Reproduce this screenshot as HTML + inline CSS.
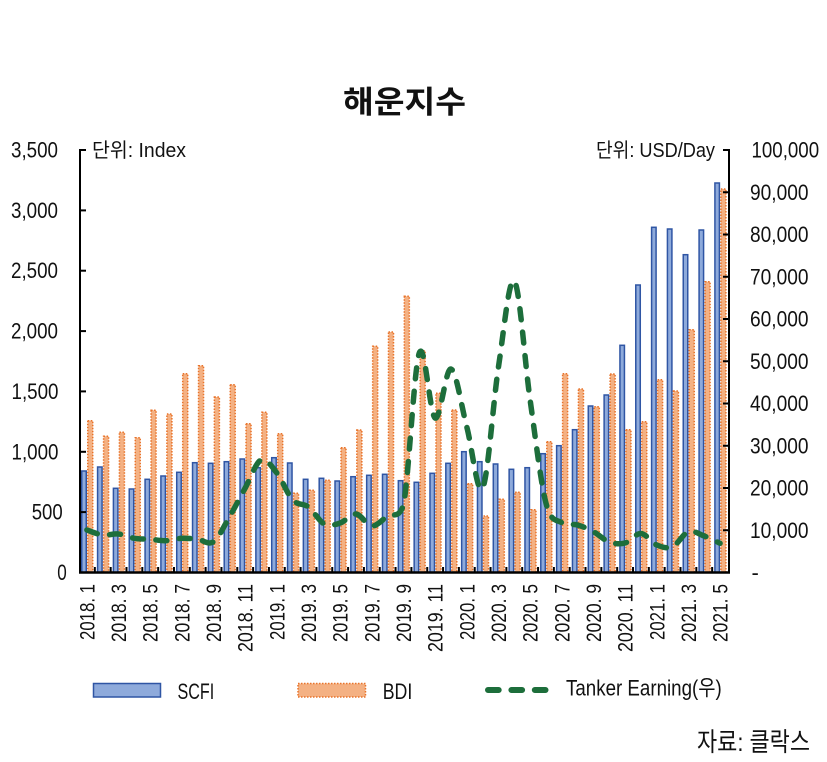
<!DOCTYPE html>
<html><head><meta charset="utf-8"><style>
html,body{margin:0;padding:0;background:#fff;}
svg{display:block;}
text{font-family:"Liberation Sans","Noto Sans CJK KR",sans-serif;fill:#111;}
.s{fill:#8eaadb;stroke:#2f55a4;stroke-width:1.5;}
.b{fill:#f4b183;stroke:#e8732a;stroke-width:1.5;stroke-dasharray:1.5 1.5;}
.ax{stroke:#000;stroke-width:2;fill:none;}
.yl{font-size:22px;text-anchor:end;}
.yr{font-size:22px;}
.xl{font-size:21px;text-anchor:end;}
</style></head><body>
<svg width="827" height="762" viewBox="0 0 827 762" xmlns="http://www.w3.org/2000/svg">
<rect width="827" height="762" fill="#fff"/>
<text x="404.5" y="113" font-size="31" font-weight="700" text-anchor="middle" textLength="123" lengthAdjust="spacingAndGlyphs">해운지수</text>

<!-- bars -->
<g transform="translate(79,0)"><rect class="s" x="2.75" y="471" width="4.5" height="101.5"/><rect class="b" x="8.75" y="420.7" width="5" height="151.8"/></g>
<g transform="translate(94.83,0)"><rect class="s" x="2.75" y="467" width="4.5" height="105.5"/><rect class="b" x="8.75" y="436.3" width="5" height="136.2"/></g>
<g transform="translate(110.66,0)"><rect class="s" x="2.75" y="488.3" width="4.5" height="84.2"/><rect class="b" x="8.75" y="432.3" width="5" height="140.2"/></g>
<g transform="translate(126.49,0)"><rect class="s" x="2.75" y="489" width="4.5" height="83.5"/><rect class="b" x="8.75" y="437.7" width="5" height="134.8"/></g>
<g transform="translate(142.32,0)"><rect class="s" x="2.75" y="479.3" width="4.5" height="93.2"/><rect class="b" x="8.75" y="410.3" width="5" height="162.2"/></g>
<g transform="translate(158.15,0)"><rect class="s" x="2.75" y="476" width="4.5" height="96.5"/><rect class="b" x="8.75" y="414" width="5" height="158.5"/></g>
<g transform="translate(173.97,0)"><rect class="s" x="2.75" y="472.3" width="4.5" height="100.2"/><rect class="b" x="8.75" y="373.7" width="5" height="198.8"/></g>
<g transform="translate(189.8,0)"><rect class="s" x="2.75" y="462.7" width="4.5" height="109.8"/><rect class="b" x="8.75" y="365.7" width="5" height="206.8"/></g>
<g transform="translate(205.63,0)"><rect class="s" x="2.75" y="463.3" width="4.5" height="109.2"/><rect class="b" x="8.75" y="397" width="5" height="175.5"/></g>
<g transform="translate(221.46,0)"><rect class="s" x="2.75" y="461.7" width="4.5" height="110.8"/><rect class="b" x="8.75" y="384.7" width="5" height="187.8"/></g>
<g transform="translate(237.29,0)"><rect class="s" x="2.75" y="459" width="4.5" height="113.5"/><rect class="b" x="8.75" y="423.7" width="5" height="148.8"/></g>
<g transform="translate(253.12,0)"><rect class="s" x="2.75" y="467.7" width="4.5" height="104.8"/><rect class="b" x="8.75" y="412.3" width="5" height="160.2"/></g>
<g transform="translate(268.95,0)"><rect class="s" x="2.75" y="457.7" width="4.5" height="114.8"/><rect class="b" x="8.75" y="433.7" width="5" height="138.8"/></g>
<g transform="translate(284.78,0)"><rect class="s" x="2.75" y="463" width="4.5" height="109.5"/><rect class="b" x="8.75" y="493.3" width="5" height="79.2"/></g>
<g transform="translate(300.61,0)"><rect class="s" x="2.75" y="479.3" width="4.5" height="93.2"/><rect class="b" x="8.75" y="490.3" width="5" height="82.2"/></g>
<g transform="translate(316.44,0)"><rect class="s" x="2.75" y="478.3" width="4.5" height="94.2"/><rect class="b" x="8.75" y="480.3" width="5" height="92.2"/></g>
<g transform="translate(332.26,0)"><rect class="s" x="2.75" y="481" width="4.5" height="91.5"/><rect class="b" x="8.75" y="447.7" width="5" height="124.8"/></g>
<g transform="translate(348.09,0)"><rect class="s" x="2.75" y="476.7" width="4.5" height="95.8"/><rect class="b" x="8.75" y="430" width="5" height="142.5"/></g>
<g transform="translate(363.92,0)"><rect class="s" x="2.75" y="475.3" width="4.5" height="97.2"/><rect class="b" x="8.75" y="346.3" width="5" height="226.2"/></g>
<g transform="translate(379.75,0)"><rect class="s" x="2.75" y="474.3" width="4.5" height="98.2"/><rect class="b" x="8.75" y="332" width="5" height="240.5"/></g>
<g transform="translate(395.58,0)"><rect class="s" x="2.75" y="480.7" width="4.5" height="91.8"/><rect class="b" x="8.75" y="296.3" width="5" height="276.2"/></g>
<g transform="translate(411.41,0)"><rect class="s" x="2.75" y="482.3" width="4.5" height="90.2"/><rect class="b" x="8.75" y="350.7" width="5" height="221.8"/></g>
<g transform="translate(427.24,0)"><rect class="s" x="2.75" y="473.3" width="4.5" height="99.2"/><rect class="b" x="8.75" y="393.3" width="5" height="179.2"/></g>
<g transform="translate(443.07,0)"><rect class="s" x="2.75" y="463.3" width="4.5" height="109.2"/><rect class="b" x="8.75" y="410" width="5" height="162.5"/></g>
<g transform="translate(458.9,0)"><rect class="s" x="2.75" y="451.7" width="4.5" height="120.8"/><rect class="b" x="8.75" y="483.7" width="5" height="88.8"/></g>
<g transform="translate(474.73,0)"><rect class="s" x="2.75" y="461.7" width="4.5" height="110.8"/><rect class="b" x="8.75" y="516" width="5" height="56.5"/></g>
<g transform="translate(490.55,0)"><rect class="s" x="2.75" y="464" width="4.5" height="108.5"/><rect class="b" x="8.75" y="499.3" width="5" height="73.2"/></g>
<g transform="translate(506.38,0)"><rect class="s" x="2.75" y="469.3" width="4.5" height="103.2"/><rect class="b" x="8.75" y="492.3" width="5" height="80.2"/></g>
<g transform="translate(522.21,0)"><rect class="s" x="2.75" y="467.7" width="4.5" height="104.8"/><rect class="b" x="8.75" y="509.7" width="5" height="62.8"/></g>
<g transform="translate(538.04,0)"><rect class="s" x="2.75" y="453.7" width="4.5" height="118.8"/><rect class="b" x="8.75" y="441.7" width="5" height="130.8"/></g>
<g transform="translate(553.87,0)"><rect class="s" x="2.75" y="445.7" width="4.5" height="126.8"/><rect class="b" x="8.75" y="373.7" width="5" height="198.8"/></g>
<g transform="translate(569.7,0)"><rect class="s" x="2.75" y="429.7" width="4.5" height="142.8"/><rect class="b" x="8.75" y="389" width="5" height="183.5"/></g>
<g transform="translate(585.53,0)"><rect class="s" x="2.75" y="406" width="4.5" height="166.5"/><rect class="b" x="8.75" y="406.7" width="5" height="165.8"/></g>
<g transform="translate(601.36,0)"><rect class="s" x="2.75" y="395" width="4.5" height="177.5"/><rect class="b" x="8.75" y="374" width="5" height="198.5"/></g>
<g transform="translate(617.19,0)"><rect class="s" x="2.75" y="345.3" width="4.5" height="227.2"/><rect class="b" x="8.75" y="429.7" width="5" height="142.8"/></g>
<g transform="translate(633.02,0)"><rect class="s" x="2.75" y="285" width="4.5" height="287.5"/><rect class="b" x="8.75" y="421.7" width="5" height="150.8"/></g>
<g transform="translate(648.84,0)"><rect class="s" x="2.75" y="227.3" width="4.5" height="345.2"/><rect class="b" x="8.75" y="379.7" width="5" height="192.8"/></g>
<g transform="translate(664.67,0)"><rect class="s" x="2.75" y="229" width="4.5" height="343.5"/><rect class="b" x="8.75" y="391" width="5" height="181.5"/></g>
<g transform="translate(680.5,0)"><rect class="s" x="2.75" y="254.7" width="4.5" height="317.8"/><rect class="b" x="8.75" y="329.7" width="5" height="242.8"/></g>
<g transform="translate(696.33,0)"><rect class="s" x="2.75" y="230" width="4.5" height="342.5"/><rect class="b" x="8.75" y="281.7" width="5" height="290.8"/></g>
<g transform="translate(712.16,0)"><rect class="s" x="2.75" y="183" width="4.5" height="389.5"/><rect class="b" x="8.75" y="189" width="5" height="383.5"/></g>

<!-- tanker line -->
<path d="M86.91 530 C89.55 530.83 97.46 534.33 102.74 535 C108.02 535.67 113.29 533.45 118.57 534 C123.85 534.55 129.12 537.42 134.4 538.3 C139.68 539.18 144.95 538.9 150.23 539.3 C155.51 539.7 160.78 540.87 166.06 540.7 C171.34 540.53 176.6 538.53 181.88 538.3 C187.16 538.07 192.43 538.73 197.71 539.3 C202.99 539.87 208.26 545.42 213.54 541.7 C218.82 537.98 224.09 525.95 229.37 517 C234.65 508.05 239.92 497.5 245.2 488 C250.48 478.5 255.75 462.5 261.03 460 C266.31 457.5 271.58 466.33 276.86 473 C282.14 479.67 287.41 494.33 292.69 500 C297.97 505.67 303.24 503 308.52 507 C313.8 511 319.07 521.33 324.35 524 C329.63 526.67 334.89 524.67 340.17 523 C345.45 521.33 350.72 513.5 356 514 C361.28 514.5 366.55 525.67 371.83 526 C377.11 526.33 382.38 519.5 387.66 516 C392.94 512.5 398.21 520 403.49 505 C408.77 477.83 414.04 367.5 419.32 353 C424.6 338.5 429.87 415.33 435.15 418 C440.43 420.67 445.7 367.5 450.98 369 C456.26 370.5 461.53 407.17 466.81 427 C472.09 446.83 477.36 498 482.64 488 C487.92 478 493.18 401.5 498.46 367 C503.74 332.5 509.01 275.5 514.29 281 C519.57 286.5 524.84 363 530.12 400 C535.4 437 540.67 482.55 545.95 503 C551.23 523.45 556.5 519.03 561.78 522.7 C567.06 526.37 572.33 523.5 577.61 525 C582.89 526.5 588.16 528.87 593.44 531.7 C598.72 534.53 603.99 540.12 609.27 542 C614.55 543.88 619.82 544.42 625.1 543 C630.38 541.58 635.65 533.17 640.93 533.5 C646.21 533.83 651.47 542.8 656.75 545 C662.03 547.2 667.3 548.92 672.58 546.7 C677.86 544.48 683.13 533.48 688.41 531.7 C693.69 529.92 698.96 534.07 704.24 536 C709.52 537.93 717.43 542.08 720.07 543.3" fill="none" stroke="#1d6e3b" stroke-width="5.5" stroke-linecap="round" stroke-dasharray="11 12.5"/>

<!-- axes -->
<line class="ax" x1="80" y1="149" x2="80" y2="573"/>
<line class="ax" x1="729" y1="149" x2="729" y2="573"/>
<line x1="79" y1="572.5" x2="730" y2="572.5" stroke="#000" stroke-width="2.5"/>
<g stroke="#000" stroke-width="2">
<line x1="80" y1="150" x2="86" y2="150"/><line x1="80" y1="210.4" x2="86" y2="210.4"/><line x1="80" y1="270.7" x2="86" y2="270.7"/><line x1="80" y1="331.1" x2="86" y2="331.1"/><line x1="80" y1="391.4" x2="86" y2="391.4"/><line x1="80" y1="451.8" x2="86" y2="451.8"/><line x1="80" y1="512.1" x2="86" y2="512.1"/>
<line x1="723" y1="150" x2="729" y2="150"/><line x1="723" y1="192.25" x2="729" y2="192.25"/><line x1="723" y1="234.5" x2="729" y2="234.5"/><line x1="723" y1="276.75" x2="729" y2="276.75"/><line x1="723" y1="319" x2="729" y2="319"/><line x1="723" y1="361.25" x2="729" y2="361.25"/><line x1="723" y1="403.5" x2="729" y2="403.5"/><line x1="723" y1="445.75" x2="729" y2="445.75"/><line x1="723" y1="488" x2="729" y2="488"/><line x1="723" y1="530.25" x2="729" y2="530.25"/>
<line x1="94.83" y1="567" x2="94.83" y2="572"/><line x1="110.66" y1="567" x2="110.66" y2="572"/><line x1="126.49" y1="567" x2="126.49" y2="572"/><line x1="142.32" y1="567" x2="142.32" y2="572"/><line x1="158.15" y1="567" x2="158.15" y2="572"/><line x1="173.97" y1="567" x2="173.97" y2="572"/><line x1="189.8" y1="567" x2="189.8" y2="572"/><line x1="205.63" y1="567" x2="205.63" y2="572"/><line x1="221.46" y1="567" x2="221.46" y2="572"/><line x1="237.29" y1="567" x2="237.29" y2="572"/><line x1="253.12" y1="567" x2="253.12" y2="572"/><line x1="268.95" y1="567" x2="268.95" y2="572"/><line x1="284.78" y1="567" x2="284.78" y2="572"/><line x1="300.61" y1="567" x2="300.61" y2="572"/><line x1="316.44" y1="567" x2="316.44" y2="572"/><line x1="332.26" y1="567" x2="332.26" y2="572"/><line x1="348.09" y1="567" x2="348.09" y2="572"/><line x1="363.92" y1="567" x2="363.92" y2="572"/><line x1="379.75" y1="567" x2="379.75" y2="572"/><line x1="395.58" y1="567" x2="395.58" y2="572"/><line x1="411.41" y1="567" x2="411.41" y2="572"/><line x1="427.24" y1="567" x2="427.24" y2="572"/><line x1="443.07" y1="567" x2="443.07" y2="572"/><line x1="458.9" y1="567" x2="458.9" y2="572"/><line x1="474.73" y1="567" x2="474.73" y2="572"/><line x1="490.55" y1="567" x2="490.55" y2="572"/><line x1="506.38" y1="567" x2="506.38" y2="572"/><line x1="522.21" y1="567" x2="522.21" y2="572"/><line x1="538.04" y1="567" x2="538.04" y2="572"/><line x1="553.87" y1="567" x2="553.87" y2="572"/><line x1="569.7" y1="567" x2="569.7" y2="572"/><line x1="585.53" y1="567" x2="585.53" y2="572"/><line x1="601.36" y1="567" x2="601.36" y2="572"/><line x1="617.19" y1="567" x2="617.19" y2="572"/><line x1="633.02" y1="567" x2="633.02" y2="572"/><line x1="648.84" y1="567" x2="648.84" y2="572"/><line x1="664.67" y1="567" x2="664.67" y2="572"/><line x1="680.5" y1="567" x2="680.5" y2="572"/><line x1="696.33" y1="567" x2="696.33" y2="572"/><line x1="712.16" y1="567" x2="712.16" y2="572"/>
</g>

<!-- left labels -->
<text class="yl" x="58" y="157.5" textLength="47" lengthAdjust="spacingAndGlyphs">3,500</text>
<text class="yl" x="58" y="217.9" textLength="47" lengthAdjust="spacingAndGlyphs">3,000</text>
<text class="yl" x="58" y="278.2" textLength="47" lengthAdjust="spacingAndGlyphs">2,500</text>
<text class="yl" x="58" y="338.6" textLength="47" lengthAdjust="spacingAndGlyphs">2,000</text>
<text class="yl" x="58.5" y="398.9" textLength="47" lengthAdjust="spacingAndGlyphs">1,500</text>
<text class="yl" x="58.5" y="459.3" textLength="47" lengthAdjust="spacingAndGlyphs">1,000</text>
<text class="yl" x="62.7" y="519.6" textLength="31" lengthAdjust="spacingAndGlyphs">500</text>
<text class="yl" x="66.7" y="580" textLength="9.5" lengthAdjust="spacingAndGlyphs">0</text>

<!-- right labels -->
<text class="yr" x="751.5" y="157.5" textLength="67.6" lengthAdjust="spacingAndGlyphs">100,000</text>
<text class="yr" x="750" y="199.75" textLength="58.5" lengthAdjust="spacingAndGlyphs">90,000</text>
<text class="yr" x="750" y="242" textLength="58.5" lengthAdjust="spacingAndGlyphs">80,000</text>
<text class="yr" x="750" y="284.25" textLength="58.5" lengthAdjust="spacingAndGlyphs">70,000</text>
<text class="yr" x="750" y="326.5" textLength="58.5" lengthAdjust="spacingAndGlyphs">60,000</text>
<text class="yr" x="750" y="368.75" textLength="58.5" lengthAdjust="spacingAndGlyphs">50,000</text>
<text class="yr" x="750" y="411" textLength="58.5" lengthAdjust="spacingAndGlyphs">40,000</text>
<text class="yr" x="750" y="453.25" textLength="58.5" lengthAdjust="spacingAndGlyphs">30,000</text>
<text class="yr" x="750" y="495.5" textLength="58.5" lengthAdjust="spacingAndGlyphs">20,000</text>
<text class="yr" x="750" y="537.75" textLength="58.5" lengthAdjust="spacingAndGlyphs">10,000</text>
<text class="yr" x="751.5" y="580">-</text>

<!-- unit labels -->
<text x="92" y="157" font-size="20" textLength="94" lengthAdjust="spacingAndGlyphs">단위: Index</text>
<text x="596" y="157" font-size="20" textLength="119" lengthAdjust="spacingAndGlyphs">단위: USD/Day</text>

<!-- x labels -->
<g>
<text class="xl" transform="translate(94.4,584) rotate(-90)" textLength="56" lengthAdjust="spacingAndGlyphs">2018. 1</text>
<text class="xl" transform="translate(126.1,584) rotate(-90)" textLength="58" lengthAdjust="spacingAndGlyphs">2018. 3</text>
<text class="xl" transform="translate(157.7,584) rotate(-90)" textLength="58" lengthAdjust="spacingAndGlyphs">2018. 5</text>
<text class="xl" transform="translate(189.4,584) rotate(-90)" textLength="58" lengthAdjust="spacingAndGlyphs">2018. 7</text>
<text class="xl" transform="translate(221,584) rotate(-90)" textLength="58" lengthAdjust="spacingAndGlyphs">2018. 9</text>
<text class="xl" transform="translate(252.7,584) rotate(-90)" textLength="68" lengthAdjust="spacingAndGlyphs">2018. 11</text>
<text class="xl" transform="translate(284.4,584) rotate(-90)" textLength="56" lengthAdjust="spacingAndGlyphs">2019. 1</text>
<text class="xl" transform="translate(316,584) rotate(-90)" textLength="58" lengthAdjust="spacingAndGlyphs">2019. 3</text>
<text class="xl" transform="translate(347.7,584) rotate(-90)" textLength="58" lengthAdjust="spacingAndGlyphs">2019. 5</text>
<text class="xl" transform="translate(379.3,584) rotate(-90)" textLength="58" lengthAdjust="spacingAndGlyphs">2019. 7</text>
<text class="xl" transform="translate(411,584) rotate(-90)" textLength="58" lengthAdjust="spacingAndGlyphs">2019. 9</text>
<text class="xl" transform="translate(442.6,584) rotate(-90)" textLength="68" lengthAdjust="spacingAndGlyphs">2019. 11</text>
<text class="xl" transform="translate(474.3,584) rotate(-90)" textLength="56" lengthAdjust="spacingAndGlyphs">2020. 1</text>
<text class="xl" transform="translate(506,584) rotate(-90)" textLength="58" lengthAdjust="spacingAndGlyphs">2020. 3</text>
<text class="xl" transform="translate(537.6,584) rotate(-90)" textLength="58" lengthAdjust="spacingAndGlyphs">2020. 5</text>
<text class="xl" transform="translate(569.3,584) rotate(-90)" textLength="58" lengthAdjust="spacingAndGlyphs">2020. 7</text>
<text class="xl" transform="translate(600.9,584) rotate(-90)" textLength="58" lengthAdjust="spacingAndGlyphs">2020. 9</text>
<text class="xl" transform="translate(632.6,584) rotate(-90)" textLength="68" lengthAdjust="spacingAndGlyphs">2020. 11</text>
<text class="xl" transform="translate(664.3,584) rotate(-90)" textLength="56" lengthAdjust="spacingAndGlyphs">2021. 1</text>
<text class="xl" transform="translate(695.9,584) rotate(-90)" textLength="58" lengthAdjust="spacingAndGlyphs">2021. 3</text>
<text class="xl" transform="translate(727.6,584) rotate(-90)" textLength="58" lengthAdjust="spacingAndGlyphs">2021. 5</text>
</g>

<!-- legend -->
<rect class="s" x="93.5" y="683.5" width="67" height="13.5"/>
<text x="177.5" y="699" font-size="22" textLength="36.7" lengthAdjust="spacingAndGlyphs">SCFI</text>
<rect class="b" x="298" y="683.5" width="67.5" height="13.5"/>
<text x="382.7" y="699" font-size="22" textLength="29.6" lengthAdjust="spacingAndGlyphs">BDI</text>
<line x1="488" y1="690" x2="546.5" y2="690" stroke="#1d6e3b" stroke-width="6" stroke-linecap="round" stroke-dasharray="10.7 12.7"/>
<text x="566" y="695.5" font-size="22" textLength="155.7" lengthAdjust="spacingAndGlyphs">Tanker Earning(우)</text>

<text x="697" y="751" font-size="26" textLength="113" lengthAdjust="spacingAndGlyphs">자료: 클락스</text>
</svg>
</body></html>
